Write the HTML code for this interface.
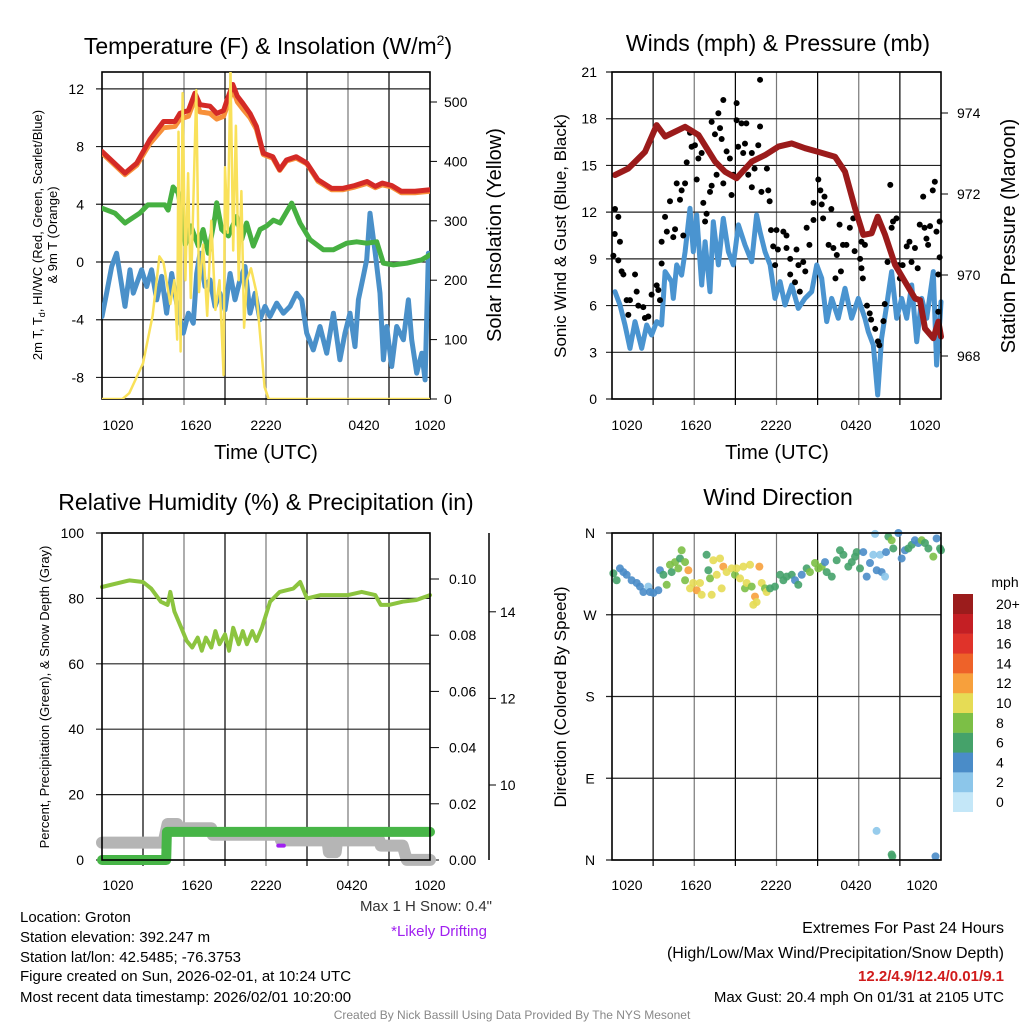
<!DOCTYPE html>
<html><head><meta charset="utf-8"><style>
html,body{margin:0;padding:0;background:#fff}
svg{display:block;font-family:"Liberation Sans",sans-serif}
</style></head><body>
<svg id="c" width="1024" height="1024" viewBox="0 0 1024 1024" xmlns="http://www.w3.org/2000/svg">
<g id="texts" fill="#000">
<text x="268" y="54" font-size="23" text-anchor="middle">Temperature (F) &amp; Insolation (W/m<tspan font-size="14" dy="-9">2</tspan><tspan dy="9">)</tspan></text>
<text x="778" y="51" font-size="23" text-anchor="middle">Winds (mph) &amp; Pressure (mb)</text>
<text x="266" y="510" font-size="23" text-anchor="middle">Relative Humidity (%) &amp; Precipitation (in)</text>
<text x="778" y="505" font-size="23" text-anchor="middle">Wind Direction</text>
<text transform="translate(42,235) rotate(-90)" font-size="13" text-anchor="middle">2m T, T<tspan font-size="9" dy="3">d</tspan><tspan dy="-3">, HI/WC (Red, Green, Scarlet/Blue)</tspan></text>
<text transform="translate(57,235) rotate(-90)" font-size="13" text-anchor="middle">&amp; 9m T (Orange)</text>
<text transform="translate(501,235) rotate(-90)" font-size="20" text-anchor="middle">Solar Insolation (Yellow)</text>
<text x="266" y="459" font-size="20" text-anchor="middle">Time (UTC)</text>
<text transform="translate(566,236) rotate(-90)" font-size="17" text-anchor="middle">Sonic Wind &amp; Gust (Blue, Black)</text>
<text transform="translate(1015,236) rotate(-90)" font-size="20" text-anchor="middle">Station Pressure (Maroon)</text>
<text x="777" y="459" font-size="20" text-anchor="middle">Time (UTC)</text>
<text transform="translate(49,697) rotate(-90)" font-size="13" text-anchor="middle">Percent, Precipitation (Green), &amp; Snow Depth (Gray)</text>
<text transform="translate(566,697) rotate(-90)" font-size="17" text-anchor="middle">Direction (Colored By Speed)</text>
<text x="492" y="911" font-size="15" text-anchor="end" fill="#333">Max 1 H Snow: 0.4"</text>
<text x="487" y="936" font-size="15" text-anchor="end" fill="#a020f0">*Likely Drifting</text>
<g font-size="15">
<text x="20" y="922">Location: Groton</text>
<text x="20" y="942">Station elevation: 392.247 m</text>
<text x="20" y="962">Station lat/lon: 42.5485; -76.3753</text>
<text x="20" y="981">Figure created on Sun, 2026-02-01, at 10:24 UTC</text>
<text x="20" y="1002">Most recent data timestamp: 2026/02/01 10:20:00</text>
</g>
<g font-size="15" text-anchor="end">
<text x="1004" y="933" font-size="16">Extremes For Past 24 Hours</text>
<text x="1004" y="958" font-size="16">(High/Low/Max Wind/Precipitation/Snow Depth)</text>
<text x="1004" y="981" font-weight="bold" fill="#d01c1c">12.2/4.9/12.4/0.01/9.1</text>
<text x="1004" y="1002">Max Gust: 20.4 mph On 01/31 at 2105 UTC</text>
</g>
<text x="512" y="1019" font-size="12" text-anchor="middle" fill="#888">Created By Nick Bassill Using Data Provided By The NYS Mesonet</text>
</g>
</svg>
<script>
// ---------- data ----------
const tempTimes=[0,0.34,0.71,1.07,1.68,2.05,2.29,2.9,3.27,3.63,4.0,4.37,4.73,5.1,5.34,5.59,5.95,6.32,6.68,6.93,7.17,7.54,7.9,8.27,8.63,9.0,9.37,9.73,10.1,10.46,10.83,11.2,11.56,11.93,12.29,12.78,13.27,13.76,14.24,14.61,14.98,15.46,15.95,16.44,16.93,17.41,17.78,18.15,18.51,18.76,19.12,19.37,19.61,19.98,20.34,20.59,20.83,21.2,21.56,22.05,22.42,22.66,23.03,23.4,23.64,23.88];
const redTimes=[0,1.68,2.54,3.5,4.5,5.34,5.7,6.32,6.8,7.17,7.9,8.4,8.9,9.2,9.57,9.9,10.3,10.83,11.3,11.8,12.5,13.0,13.5,14.2,15.0,15.8,16.8,17.6,18.5,19.4,20.0,20.5,21.2,21.9,22.9,24];
const redVals=[7.66,6.16,6.85,8.47,9.74,9.74,10.3,10.5,11.7,10.9,10.8,10.3,10.5,11.35,12.3,11.5,11.0,10.3,9.4,7.54,7.3,6.4,7.07,7.3,6.85,5.7,5.1,5.1,5.3,5.58,5.24,5.47,5.3,4.9,4.9,5.0];
const orangeVals=[7.55,6.05,6.7,8.2,9.3,9.4,9.9,10.1,11.3,10.4,10.3,9.9,10.1,10.9,12.0,11.1,10.6,10.0,9.2,7.45,7.2,6.35,7.0,7.2,6.8,5.6,5.0,5.0,5.2,5.45,5.15,5.35,5.2,4.8,4.8,4.9];
const greenTimes=[0,0.95,1.68,2.76,3.36,4.6,4.84,5.2,5.57,5.9,6.1,6.5,7.05,7.4,7.78,8.27,8.39,8.76,9.25,9.85,10.22,10.58,11.07,11.56,12.05,12.54,13.03,13.88,14.49,15.22,16.2,16.93,17.9,18.64,19.37,20.1,20.59,21.32,22.3,23.4,24];
const greenVals=[3.73,3.38,2.7,3.38,3.96,3.96,3.6,5.2,4.8,3.15,1.2,2.5,1.1,2.25,0.6,3.15,4.1,2.25,1.8,3.15,1.55,2.7,1.1,2.25,2.5,2.9,2.7,4.08,2.7,1.55,0.85,0.85,1.3,1.4,1.3,1.4,-0.08,-0.2,-0.08,0.15,0.5];
const blueVals=[-3.78,-2.16,-0.31,0.61,-3.08,-0.54,-2.16,-0.54,-1.7,-0.54,-2.62,-1.0,-3.55,-0.8,-2.16,-3.55,-4.93,-3.55,-4.24,-0.8,0.61,-1.7,-1.24,-3.08,-2.16,-3.32,-0.8,-2.62,-1.24,-0.31,-3.55,-2.16,-4.0,-3.08,-3.78,-2.85,-3.55,-3.08,-2.16,-2.62,-4.93,-6.09,-4.47,-6.32,-3.55,-6.78,-4.93,-3.55,-5.86,-2.62,-1.0,0.15,3.38,0.7,-2.16,-6.78,-4.47,-7.24,-4.47,-5.39,-2.62,-5.39,-7.7,-6.32,-8.17,0.61];
const solarTimes=[0,1.5,2,3,3.7,4.2,4.5,5,5.3,5.5,5.6,5.75,5.9,6.1,6.3,6.5,6.9,7.1,7.4,7.7,8,8.3,8.6,8.9,9.0,9.2,9.4,9.6,9.8,10,10.2,10.4,10.6,10.9,11.3,11.6,11.9,12.2,24];
const solarVals=[0,0,10,60,140,240,230,160,200,100,450,80,515,200,380,170,520,180,260,140,300,150,200,40,390,280,555,250,460,200,350,120,200,220,180,100,20,0,0];
const tempTicks=[12,8,4,0,-4,-8];
const solarTicks=[0,100,200,300,400,500];
const timeLabels=["1020","1620","2220","0420","1020"];

const windTimes=[0.22,0.58,0.95,1.31,1.68,2.17,2.53,2.89,3.26,3.62,3.87,4.35,4.47,4.72,5.08,5.33,5.69,5.93,6.18,6.54,6.79,7.15,7.39,7.76,8.12,8.49,8.85,9.22,9.7,10.19,10.55,10.8,11.16,11.53,11.89,12.26,12.62,13.11,13.59,14.08,14.57,14.93,15.3,15.66,16.03,16.51,17.0,17.48,17.97,18.45,18.7,19.06,19.38,19.67,20.04,20.4,20.77,21.13,21.5,21.86,22.23,22.59,22.96,23.44,23.68,23.93,24];
const windVals=[6.89,6.04,4.75,3.25,4.97,3.25,4.75,4.11,4.97,4.75,8.18,7.54,6.46,8.61,7.96,9.46,12.25,9.46,11.82,7.32,10.1,6.89,11.39,8.61,11.6,9.46,8.61,11.18,9.89,8.82,11.82,10.75,9.46,8.61,6.46,7.54,6.04,7.32,5.82,6.46,6.89,8.61,7.75,4.97,6.46,5.18,7.11,5.18,6.46,5.18,4.32,3.47,0.26,3.9,6.04,8.18,5.18,6.46,5.18,7.32,3.68,6.46,5.18,8.18,2.18,5.18,6.25];
const gustTimes=[0.22,0.46,0.2,0.58,0.1,0.46,0.7,0.83,1.68,1.07,1.31,1.8,1.19,1.92,2.28,2.4,2.65,2.89,3.26,3.38,3.5,3.62,3.62,3.87,4.0,4.23,4.47,4.6,4.72,4.96,5.08,5.2,5.33,5.45,5.69,5.81,6.05,6.3,6.54,6.18,6.66,6.79,6.9,7.15,7.27,7.27,7.51,7.76,7.88,8.12,8.0,7.63,8.12,8.36,8.6,8.72,8.85,9.09,9.09,9.2,9.45,9.7,9.57,9.8,9.94,10.2,10.2,10.4,10.67,10.8,10.8,10.9,11.3,11.4,11.5,11.6,11.76,11.9,12.0,12.1,12.5,12.73,12.73,13.0,13.0,13.35,13.46,13.6,13.7,13.95,14.1,14.2,14.4,14.7,14.7,15.05,15.2,15.3,15.4,15.5,15.8,16.0,16.15,16.3,16.4,16.6,16.7,16.85,17.1,17.35,17.6,17.7,18.1,18.2,18.2,18.3,18.45,18.6,18.8,18.9,19.2,19.4,19.5,19.8,19.9,20.1,20.3,20.4,20.5,20.75,20.9,21.0,21.2,21.5,21.7,21.85,22.1,22.3,22.45,22.7,22.8,22.94,23.06,23.2,23.4,23.55,23.67,23.9,23.9,23.8,23.8];
const gustVals=[12.2,11.7,10.6,10.1,9.2,8.9,8.2,8.0,8.0,6.35,6.35,6.9,5.4,6.0,5.9,5.2,5.3,6.7,7.3,7.0,6.35,8.7,10.1,11.7,10.75,12.7,10.4,10.9,13.85,12.8,13.4,10.5,13.85,15.2,17.1,16.2,16.3,15.45,15.8,14.1,12.6,11.4,11.9,13.3,13.7,17.8,17.0,18.35,17.4,19.2,16.7,14.4,13.85,15.9,15.45,13.1,14.4,19.0,17.9,16.2,17.7,16.4,15.8,17.7,14.4,13.6,15.8,14.8,16.3,17.5,20.5,13.3,14.8,13.4,12.7,10.85,9.8,8.6,10.85,9.6,10.75,10.5,9.7,9.0,8.0,7.5,9.6,8.6,6.9,8.8,8.2,11.0,9.9,11.5,12.6,14.1,13.4,12.5,11.6,13.0,9.9,12.2,9.7,7.75,9.25,11.2,8.2,9.9,9.9,11.0,11.6,9.5,9.0,10.1,8.4,7.75,9.9,6.0,5.5,5.1,4.5,3.7,3.45,5.0,6.1,8.8,13.75,11.0,11.4,11.6,8.6,7.75,8.6,9.8,10.1,8.8,9.7,8.4,11.2,13.0,11.0,10.3,9.9,11.1,13.4,13.95,10.75,11.4,9.1,8.0,5.6];
const presTimes=[0.22,1.19,2.41,3.26,3.87,5.33,6.3,7.52,8.24,9.09,10.19,11.16,12.14,13.11,14.08,15.05,16.27,17.0,17.73,18.33,18.94,19.38,19.92,20.65,21.38,22.11,22.47,22.83,23.44,23.81,24];
const presVals=[972.47,972.63,973.04,973.7,973.42,973.66,973.46,972.8,972.55,972.39,972.8,972.96,973.17,973.25,973.13,973.04,972.92,972.55,971.65,970.99,971.03,971.44,970.99,970.25,969.83,969.42,969.38,968.68,968.44,968.85,968.48];
const windTicks=[0,3,6,9,12,15,18,21];
const presTicks=[968,970,972,974];

const rhTimes=[0,2,3,3.6,4.3,4.8,5.0,5.3,5.8,6.2,6.6,7.0,7.3,7.6,8.0,8.3,8.6,9.0,9.3,9.6,10.0,10.3,10.6,11.0,11.3,11.7,12.3,13.0,14.0,14.5,15.0,16.0,17.0,18.0,19.0,20.0,20.4,21.0,22.0,23.0,24];
const rhVals=[83.5,85.5,85,83,79,78,82,76,71,67,65,68,64,68,65,70,66,69,64,71,66,70,66,70,67,71,79,82,83,85,80,81,81,81,82,81,78,78,79,79.5,81];
const snowTimes=[0,4.5,4.8,5.5,5.6,8,8.1,13,13.1,16.5,16.6,17.1,17.2,20.3,20.4,22.0,22.3,24];
const snowVals=[8.67,8.67,9.1,9.1,9.0,9.0,8.85,8.85,8.72,8.72,8.45,8.45,8.72,8.72,8.6,8.6,8.27,8.27];
const precipTimes=[0,4.7,4.75,24];
const precipVals=[0,0,0.01,0.01];
const driftTimes=[12.9,13.3];
const driftVals=[8.6,8.6];
const rhTicks=[0,20,40,60,80,100];
const precipTicks=[0,0.02,0.04,0.06,0.08,0.10];
const snowTicks=[10,12,14];

const dirTimes=[0.1,0.34,0.58,0.83,1.07,1.43,1.8,2.04,2.29,2.65,2.77,3.02,3.38,3.5,3.75,3.99,4.23,4.35,4.6,4.84,4.96,5.08,5.33,5.57,5.33,5.69,5.93,6.18,6.42,6.54,6.9,7.03,7.15,7.27,7.39,7.64,7.88,8.0,8.12,8.36,8.73,8.97,9.09,9.34,9.58,9.7,9.82,10.07,10.19,10.43,10.31,10.55,10.75,10.92,11.16,11.28,11.53,11.89,12.26,12.5,12.74,13.11,13.35,13.59,13.84,14.2,14.44,14.81,15.05,15.3,15.54,15.66,16.03,16.39,16.63,16.88,17.24,17.49,17.73,17.85,18.09,18.33,18.58,18.82,19.06,19.19,19.31,19.55,19.67,19.92,19.99,20.16,20.4,20.52,20.89,21.13,21.37,21.62,21.86,22.1,22.35,22.59,22.83,23.08,23.44,23.68,23.93,24,19.3,20.4,20.45,23.6];
const dirVals=[315.6,308,321,317,314,308,305,301,295,301,295,294,297,319,314,303,325,317,328,321,332,341,328,319,308,299,305,297,305,292,336,319,310,292,330,314,332,299,323,317,321,314,321,310,323,299,305,325,301,290,281,284,323,305,299,295,299,301,314,308,312,314,308,303,314,321,317,327,321,323,328,317,312,330,341,336,323,328,334,339,321,339,312,327,336,359,319,336,317,312,339,356,352,343,360,332,341,343,347,352,349,352,349,343,334,354,343,341,32,6,4,4];
const dirSpeeds=[6.5,6.5,4.5,4.5,4.5,4.5,4.5,4.5,4.5,2.5,4.5,4.5,4.5,4.5,6.5,8.5,8.5,6.5,8.5,8.5,6.5,8.5,8.5,12.5,8.5,10.5,10.5,12.5,10.5,10.5,6.5,6.5,8.5,10.5,10.5,10.5,10.5,10.5,12.5,10.5,10.5,8.5,10.5,10.5,10.5,8.5,10.5,10.5,8.5,12.5,10.5,10.5,12.5,10.5,8.5,10.5,6.5,6.5,6.5,6.5,6.5,6.5,4.5,6.5,4.5,6.5,8.5,8.5,8.5,8.5,4.5,6.5,6.5,6.5,6.5,6.5,6.5,6.5,6.5,6.5,6.5,4.5,4.5,4.5,2.5,2.5,4.5,2.5,4.5,2.5,4.5,6.5,8.5,6.5,4.5,4.5,4.5,6.5,6.5,4.5,4.5,8.5,6.5,6.5,8.5,4.5,6.5,6.5,2.5,6.5,6.5,4.5];
const dirTicks=["N","E","S","W","N"];
const speedBins=["0","2","4","6","8","10","12","14","16","18","20+"];
const speedColors=["#c4e7f8","#8cc6ea","#4a8cc8","#45a26a","#7cbf46","#e6dc55","#f7a03c","#ee6229","#e0332a","#c41f24","#9b1c1c"];

// ---------- helpers ----------
const NS="http://www.w3.org/2000/svg";
const svg=document.getElementById('c');
function mk(tag,attrs,parent){const e=document.createElementNS(NS,tag);for(const k in attrs)e.setAttribute(k,attrs[k]);(parent||svg).appendChild(e);return e;}
function pathFrom(ts,vs,fx,fy){let d="";for(let i=0;i<ts.length;i++){d+=(i?"L":"M")+fx(ts[i]).toFixed(1)+","+fy(vs[i]).toFixed(1);}return d;}

// scales
const xL=t=>102+t/24*328;
const xR=t=>612+t/24*329;
const yT=v=>262-v*14.43;
const yS=s=>399-s*0.594;
const yW=m=>399-m*15.57;
const yP=p=>113+(974-p)*40.5;
const yRH=r=>860-r*3.27;
const yPr=p=>860-p*2810;
const ySn=s=>785-(s-10)*43.3;
const yD=d=>860-d*0.9083;

function frame(x0,y0,x1,y1,name){
  const g=mk('g',{});
  
  
  for(let i=1;i<8;i++){const x=x0+(x1-x0)*i/8;
    const l=mk('line',{x1:x,y1:y0,x2:x,y2:y1+6,stroke:(i%2?"#000":"#777"),'stroke-width':1.2},g);
    
    }
  return g;
}
function hgrid(g,x0,x1,y){const l=mk('line',{x1:x0-6,y1:y,x2:x1,y2:y,stroke:"#222",'stroke-width':1.2},g);
  
  }
function border(g,x0,y0,x1,y1){const r=mk('rect',{x:x0,y:y0,width:x1-x0,height:y1-y0,fill:"none",stroke:"#000",'stroke-width':1.6},g);
  
  }
function label(g,x,y,txt,anchor,size,name){const t=mk('text',{x:x,y:y,'font-size':size||14,'text-anchor':anchor||'middle'},g);t.textContent=txt;
  
  return t;}
function series(ts,vs,fx,fy,color,w,name,parent){const p=mk('path',{d:pathFrom(ts,vs,fx,fy),fill:"none",stroke:color,'stroke-width':w,'stroke-linejoin':'round','stroke-linecap':'round'},parent);
  
  return p;}

// ---------- Panel 1 ----------
const g1=frame(102,72,430,399,'temperature-panel');
tempTicks.forEach(v=>{hgrid(g1,102,430,yT(v));label(g1,84,yT(v)+5,String(v),'end',14,'temperature-tick-label');});
solarTicks.forEach(s=>{const tk=mk('line',{x1:430,y1:yS(s),x2:437,y2:yS(s),stroke:"#000"},g1);label(g1,444,yS(s)+5,String(s),'start',14,'solar-tick-label');});
const tx1=[118,196,266,364,430];
timeLabels.forEach((s,i)=>label(g1,tx1[i],430,s,'middle',14,'time-tick-label'));
const c1=mk('g',{'clip-path':'url(#cp1)'});
const cp=mk('clipPath',{id:'cp1'});mk('rect',{x:102,y:72,width:328,height:327},cp);
series(tempTimes,blueVals,xL,yT,"#4a90c9",5,'wind-chill-line',c1);
series(greenTimes,greenVals,xL,yT,"#46b041",5,'dewpoint-line',c1);
series(redTimes,orangeVals,xL,yT,"#f7903a",5,'nine-meter-temp-line',c1);
series(redTimes,redVals,xL,yT,"#d42a26",5,'two-meter-temp-line',c1);
series(solarTimes,solarVals,xL,yS,"#f9e15a",2.5,'solar-insolation-line',c1);
border(g1,102,72,430,399);

// ---------- Panel 2 ----------
const g2=frame(612,72,941,399,'winds-panel');
windTicks.forEach(v=>{hgrid(g2,612,941,yW(v));label(g2,597,yW(v)+5,String(v),'end',14,'wind-tick-label');});
presTicks.forEach(p=>{const tk=mk('line',{x1:941,y1:yP(p),x2:948,y2:yP(p),stroke:"#000"},g2);label(g2,957,yP(p)+5,String(p),'start',14,'pressure-tick-label');});
const tx2=[627,696,776,856,925];
timeLabels.forEach((s,i)=>label(g2,tx2[i],430,s,'middle',14,'time-tick-label'));
series(windTimes,windVals,xR,yW,"#4a94d0",5,'sonic-wind-line',g2);
gustTimes.forEach((t,i)=>{const c=mk('circle',{cx:xR(t),cy:yW(gustVals[i]),r:3,fill:"#000"},g2);
  
  });
series(presTimes,presVals,xR,yP,"#9b1b1b",6,'pressure-line',g2);
border(g2,612,72,941,399);

// ---------- Panel 3 ----------
const g3=frame(102,533,430,860,'humidity-panel');
rhTicks.forEach(v=>{hgrid(g3,102,430,yRH(v));label(g3,84,yRH(v)+5,String(v),'end',14,'humidity-tick-label');});
precipTicks.forEach(p=>{const tk=mk('line',{x1:430,y1:yPr(p),x2:439,y2:yPr(p),stroke:"#000"},g3);label(g3,449,yPr(p)+5,p.toFixed(2),'start',14,'precip-tick-label');});
const sAx=mk('line',{x1:489,y1:533,x2:489,y2:860,stroke:"#000",'stroke-width':1.5},g3);


snowTicks.forEach(s=>{const tk=mk('line',{x1:489,y1:ySn(s),x2:496,y2:ySn(s),stroke:"#000"},g3);label(g3,500,ySn(s)+5,String(s),'start',14,'snow-tick-label');});
const tx3=[118,197,266,352,430];
timeLabels.forEach((s,i)=>label(g3,tx3[i],890,s,'middle',14,'time-tick-label'));
series(snowTimes,snowVals,xL,ySn,"#b5b5b5",12,'snow-depth-line',g3);
series(precipTimes,precipVals,xL,yPr,"#47b547",10,'precipitation-line',g3);
series(driftTimes,driftVals,xL,ySn,"#a020f0",4,'drifting-mark',g3);
series(rhTimes,rhVals,xL,yRH,"#8cc43f",4,'relative-humidity-line',g3);
border(g3,102,533,430,860);

// ---------- Panel 4 ----------
const g4=frame(612,533,941,860,'wind-direction-panel');
dirTicks.forEach((s,i)=>{const d=i*90;hgrid(g4,612,941,yD(d));label(g4,590,yD(d)+5,s,'middle',14,'direction-tick-label');});
const tx4=[627,696,776,856,922];
timeLabels.forEach((s,i)=>label(g4,tx4[i],890,s,'middle',14,'time-tick-label'));
dirTimes.forEach((t,i)=>{const idx=Math.min(10,Math.floor(dirSpeeds[i]/2));
  const c=mk('circle',{cx:xR(t),cy:yD(dirVals[i]),r:4,fill:speedColors[idx],opacity:0.9},g4);
  
  });
border(g4,612,533,941,860);

// legend
const lg=mk('g',{});


label(lg,1005,587,'mph','middle',14,'legend-title');
speedBins.forEach((s,i)=>{const cy=802-i*19.8;
  const r=mk('rect',{x:953,y:cy-10,width:20,height:20,fill:speedColors[i]},lg);
  
  
  label(lg,996,cy+5,s,'start',14,'legend-entry');});
</script>
</body></html>
